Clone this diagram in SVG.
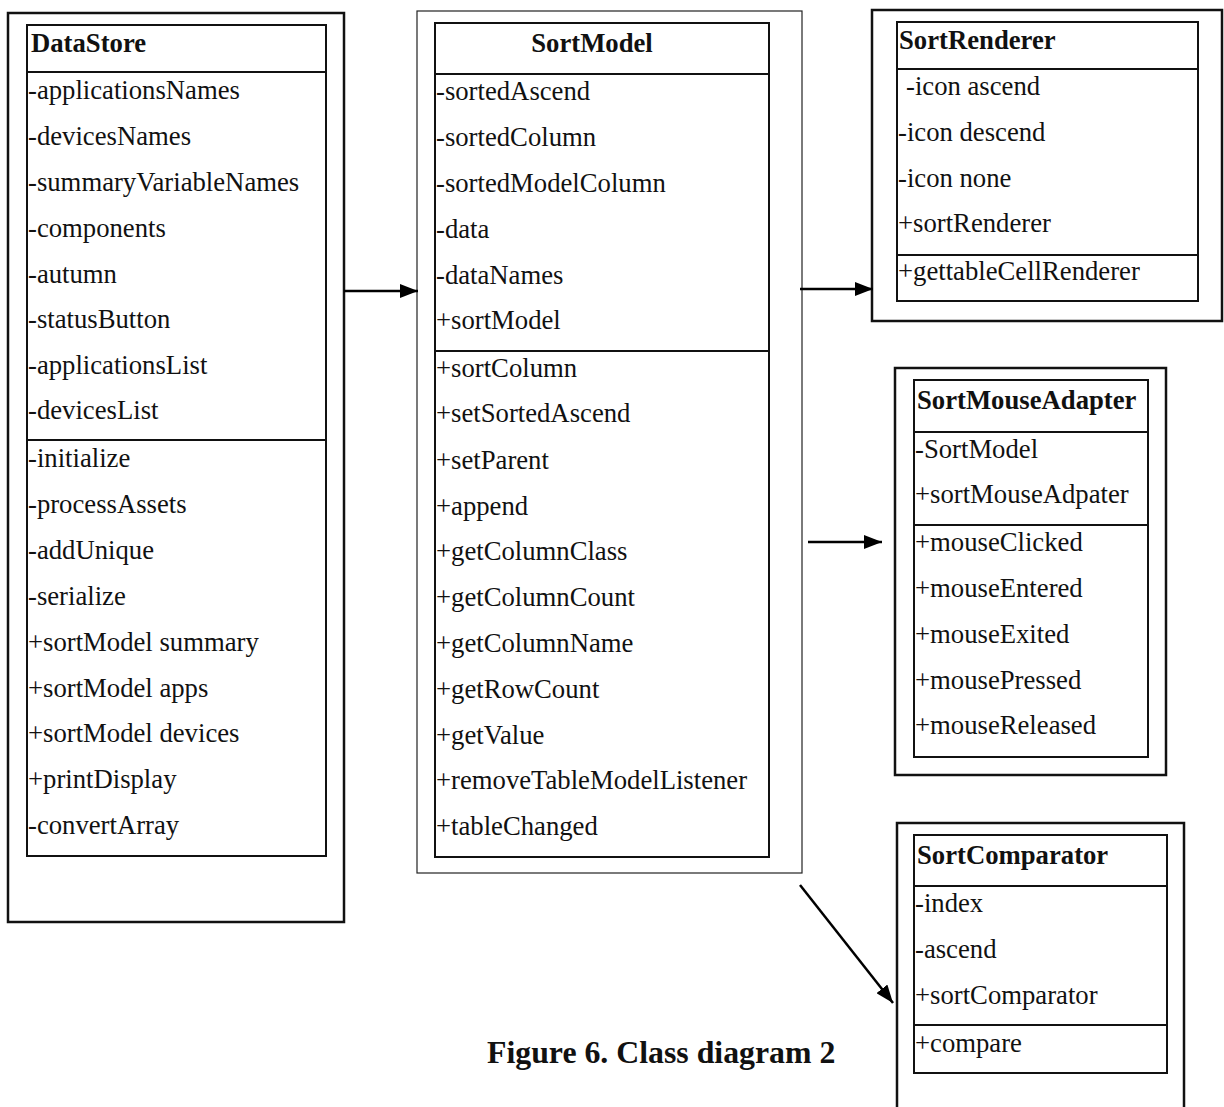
<svg xmlns="http://www.w3.org/2000/svg" width="1224" height="1107" viewBox="0 0 1224 1107">
<style>
.outer{fill:none;stroke:#111;stroke-width:2.5}
.outer-thin{fill:none;stroke:#222;stroke-width:1.2}
.inner{fill:none;stroke:#111;stroke-width:2}
.div{stroke:#111;stroke-width:2}
text{font-family:"Liberation Serif","Times New Roman",serif;font-size:26.7px;fill:#111}
.title{font-weight:bold}
.conn{stroke:#000;stroke-width:2.5;fill:none}
</style>
<defs>
<marker id="arr" viewBox="0 0 18 14" refX="18" refY="7" markerWidth="18" markerHeight="14" markerUnits="userSpaceOnUse" orient="auto">
<path d="M0,0 L18,7 L0,14 Z" fill="#000"/>
</marker>
</defs>
<rect width="1224" height="1107" fill="#fff"/>

<g id="DataStore">
<rect class="outer" x="8" y="13" width="336" height="909"/>
<rect class="inner" x="27" y="25" width="299" height="831"/>
<line class="div" x1="27" y1="72" x2="326" y2="72"/>
<line class="div" x1="27" y1="440" x2="326" y2="440"/>
<text class="title" x="31" y="52">DataStore</text>
<text x="28" y="99">-applicationsNames</text>
<text x="28" y="145">-devicesNames</text>
<text x="28" y="191">-summaryVariableNames</text>
<text x="28" y="237">-components</text>
<text x="28" y="283">-autumn</text>
<text x="28" y="328">-statusButton</text>
<text x="28" y="374">-applicationsList</text>
<text x="28" y="419">-devicesList</text>
<text x="28" y="467">-initialize</text>
<text x="28" y="513">-processAssets</text>
<text x="28" y="559">-addUnique</text>
<text x="28" y="605">-serialize</text>
<text x="28" y="651">+sortModel summary</text>
<text x="28" y="697">+sortModel apps</text>
<text x="28" y="742">+sortModel devices</text>
<text x="28" y="788">+printDisplay</text>
<text x="28" y="834">-convertArray</text>
</g>

<g id="SortModel">
<rect class="outer-thin" x="417" y="11" width="385" height="862"/>
<rect class="inner" x="435" y="23" width="334" height="834"/>
<line class="div" x1="435" y1="74" x2="769" y2="74"/>
<line class="div" x1="435" y1="351" x2="769" y2="351"/>
<text class="title" x="592" y="52" text-anchor="middle">SortModel</text>
<text x="436" y="100">-sortedAscend</text>
<text x="436" y="146">-sortedColumn</text>
<text x="436" y="192">-sortedModelColumn</text>
<text x="436" y="238">-data</text>
<text x="436" y="284">-dataNames</text>
<text x="436" y="329">+sortModel</text>
<text x="436" y="377">+sortColumn</text>
<text x="436" y="422">+setSortedAscend</text>
<text x="436" y="469">+setParent</text>
<text x="436" y="515">+append</text>
<text x="436" y="560">+getColumnClass</text>
<text x="436" y="606">+getColumnCount</text>
<text x="436" y="652">+getColumnName</text>
<text x="436" y="698">+getRowCount</text>
<text x="436" y="744">+getValue</text>
<text x="436" y="789">+removeTableModelListener</text>
<text x="436" y="835">+tableChanged</text>
</g>

<g id="SortRenderer">
<rect class="outer" x="872" y="10" width="350" height="311"/>
<rect class="inner" x="897" y="22" width="301" height="279"/>
<line class="div" x1="897" y1="69" x2="1198" y2="69"/>
<line class="div" x1="897" y1="255" x2="1198" y2="255"/>
<text class="title" x="899" y="49">SortRenderer</text>
<text x="906" y="95">-icon ascend</text>
<text x="898" y="141">-icon descend</text>
<text x="898" y="187">-icon none</text>
<text x="898" y="232">+sortRenderer</text>
<text x="898" y="280">+gettableCellRenderer</text>
</g>

<g id="SortMouseAdapter">
<rect class="outer" x="895" y="368" width="271" height="407"/>
<rect class="inner" x="914" y="380" width="234" height="377"/>
<line class="div" x1="914" y1="432" x2="1148" y2="432"/>
<line class="div" x1="914" y1="525" x2="1148" y2="525"/>
<text class="title" x="917" y="409">SortMouseAdapter</text>
<text x="915" y="458">-SortModel</text>
<text x="915" y="503">+sortMouseAdpater</text>
<text x="915" y="551">+mouseClicked</text>
<text x="915" y="597">+mouseEntered</text>
<text x="915" y="643">+mouseExited</text>
<text x="915" y="689">+mousePressed</text>
<text x="915" y="734">+mouseReleased</text>
</g>

<g id="SortComparator">
<rect class="outer" x="897" y="823" width="287" height="300"/>
<rect class="inner" x="914" y="835" width="253" height="238"/>
<line class="div" x1="914" y1="886" x2="1167" y2="886"/>
<line class="div" x1="914" y1="1025" x2="1167" y2="1025"/>
<text class="title" x="917" y="864">SortComparator</text>
<text x="915" y="912">-index</text>
<text x="915" y="958">-ascend</text>
<text x="915" y="1004">+sortComparator</text>
<text x="915" y="1052">+compare</text>
</g>

<g id="connectors">
<line class="conn" x1="344" y1="291" x2="418" y2="291" marker-end="url(#arr)"/>
<line class="conn" x1="800" y1="289" x2="873" y2="289" marker-end="url(#arr)"/>
<line class="conn" x1="808" y1="542" x2="882" y2="542" marker-end="url(#arr)"/>
<line class="conn" x1="800" y1="885" x2="893" y2="1003" marker-end="url(#arr)"/>
</g>

<text class="title" x="487" y="1063" style="font-size:31.8px">Figure 6. Class diagram 2</text>
</svg>
